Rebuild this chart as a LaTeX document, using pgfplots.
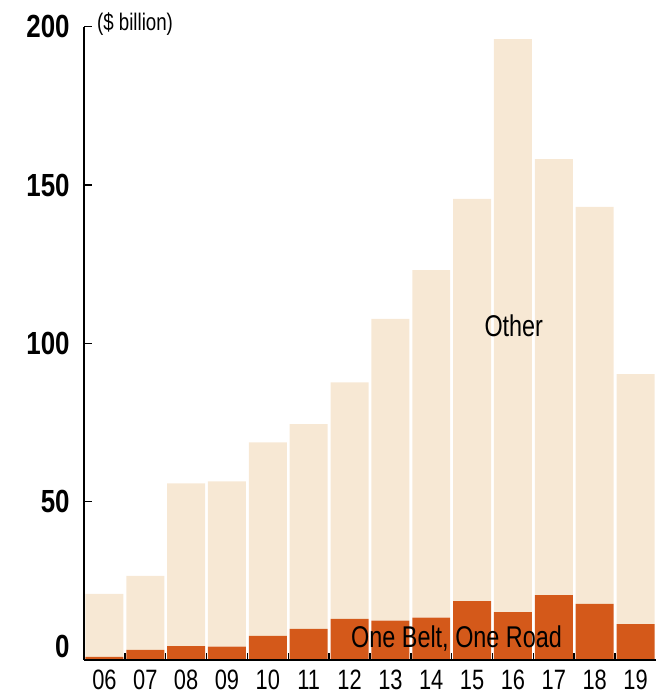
\documentclass[border=0pt]{standalone}
\usepackage{pgfplots}
\pgfplotsset{compat=1.18}
\usepackage{pgfplotstable}
\usepackage{fontspec}
\setmainfont{Liberation Sans}
\newfontfamily\narrow[FakeStretch=0.78]{Liberation Sans}
\newfontfamily\narrowbold[FakeStretch=0.81]{Liberation Sans Bold}

\definecolor{obor}{HTML}{D4591A}
\definecolor{other}{HTML}{F7E8D4}

% Overseas construction and investment, $ billion
\pgfplotstableread{
x  obor  other
0  1.0   19.9
1  3.2   23.4
2  4.4   51.4
3  4.2   52.2
4  7.6   61.1
5  9.8   64.7
6  13.0  74.7
7  12.4  95.3
8  13.4  109.7
9  18.6  127.0
10 15.1  181.0
11 20.5  137.7
12 17.7  125.4
13 11.3  79.0
}\datatable

\begin{document}
\begin{tikzpicture}
\begin{axis}[
  scale only axis,
  width=286pt, height=316.67pt,
  xmin=-0.5, xmax=13.5,
  ymin=0, ymax=200,
  axis lines=left,
  axis line style={-, black, line width=0.75pt},
  ybar stacked,
  bar width=0.93,
  xtick=data,
  xticklabels={06,07,08,09,10,11,12,13,14,15,16,17,18,19},
  minor xtick={0.5,1.5,...,12.5},
  major x tick style={draw=none},
  minor tick length=3.5pt,
  minor x tick style={black, line width=0.75pt},
  xticklabel style={font=\narrow\fontsize{14}{14}\selectfont, inner sep=0pt, yshift=-5pt},
  ytick={50,100,150,200},
  extra y ticks={0},
  extra y tick style={major tick length=0pt, yticklabel style={yshift=6.5pt}},
  major tick length=4pt,
  tick align=inside,
  y tick style={black, line width=0.75pt},
  yticklabel style={font=\narrowbold\fontsize{16}{16}\selectfont, inner sep=0pt, xshift=-7pt},
  /pgf/number format/assume math mode=true,
  axis on top,
  clip=false,
]
\addplot[fill=obor, draw=none] table[x=x, y=obor] {\datatable};
\addplot[fill=other, draw=none] table[x=x, y=other] {\datatable};

\coordinate (unit) at (axis cs:-0.19,200.8);
\coordinate (lother) at (axis cs:10.02,102.1);
\coordinate (lobor) at (axis cs:8.62,4.0);
\coordinate (bl) at (rel axis cs:-0.1469,-0.0553);
\coordinate (tr) at (rel axis cs:1.0035,1.0422);
\end{axis}
% series labels, set over the bars
\node[anchor=west, inner sep=0pt, font=\narrow\fontsize{12}{12}\selectfont]
  at (unit) {(\$ billion)};
\node[anchor=base, inner sep=0pt, font=\narrow\fontsize{15}{15}\selectfont]
  at (lother) {Other};
\node[anchor=base, inner sep=0pt, font=\narrow\fontsize{15}{15}\selectfont]
  at (lobor) {One Belt, One Road};
\pgfresetboundingbox
\useasboundingbox (bl) rectangle (tr);
\end{tikzpicture}
\end{document}
